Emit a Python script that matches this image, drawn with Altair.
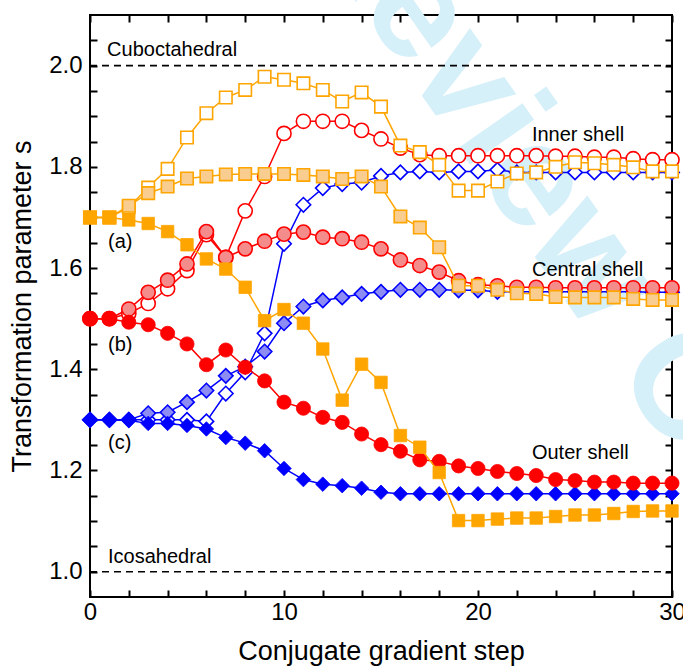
import altair as alt
import pandas as pd

steps = list(range(31))

# (a) orange squares
a_outer = [1.70, 1.70, 1.695, 1.688, 1.672, 1.646, 1.618, 1.598, 1.562, 1.496, 1.518,
           1.491, 1.440, 1.339, 1.410, 1.374, 1.269, 1.246, 1.196, 1.101, 1.101,
           1.104, 1.106, 1.106, 1.109, 1.112, 1.112, 1.115, 1.119, 1.120, 1.120]
a_central = [1.70, 1.70, 1.723, 1.748, 1.761, 1.777, 1.781, 1.785, 1.786, 1.786, 1.786,
             1.784, 1.781, 1.776, 1.781, 1.761, 1.702, 1.680, 1.641, 1.565, 1.565,
             1.557, 1.550, 1.549, 1.543, 1.542, 1.542, 1.542, 1.539, 1.537, 1.537]
a_inner = [1.70, 1.70, 1.720, 1.759, 1.796, 1.858, 1.906, 1.937, 1.952, 1.978, 1.972,
           1.965, 1.952, 1.929, 1.947, 1.919, 1.842, 1.829, 1.804, 1.753, 1.753,
           1.771, 1.787, 1.789, 1.800, 1.809, 1.807, 1.804, 1.799, 1.791, 1.791]
# (b) red circles
b_outer = [1.50, 1.50, 1.493, 1.488, 1.471, 1.450, 1.409, 1.438, 1.404, 1.377, 1.335,
           1.323, 1.305, 1.295, 1.272, 1.251, 1.238, 1.221, 1.218, 1.209, 1.204,
           1.198, 1.194, 1.190, 1.182, 1.180, 1.177, 1.177, 1.175, 1.175, 1.175]
b_central = [1.50, 1.50, 1.519, 1.552, 1.576, 1.608, 1.672, 1.621, 1.638, 1.653, 1.667,
             1.671, 1.661, 1.658, 1.651, 1.638, 1.616, 1.605, 1.592, 1.575, 1.567,
             1.565, 1.562, 1.562, 1.561, 1.561, 1.561, 1.561, 1.561, 1.561, 1.561]
b_inner = [1.50, 1.50, 1.510, 1.530, 1.559, 1.595, 1.666, 1.621, 1.713, 1.781, 1.866,
           1.890, 1.890, 1.890, 1.872, 1.855, 1.837, 1.824, 1.822, 1.822, 1.822,
           1.822, 1.822, 1.822, 1.821, 1.821, 1.819, 1.819, 1.816, 1.814, 1.814]
# (c) blue diamonds
c_outer = [1.30, 1.30, 1.299, 1.293, 1.293, 1.289, 1.282, 1.265, 1.254, 1.239, 1.204,
           1.182, 1.173, 1.170, 1.165, 1.157, 1.154, 1.154, 1.154, 1.154, 1.154,
           1.154, 1.154, 1.154, 1.154, 1.154, 1.154, 1.154, 1.154, 1.154, 1.154]
c_central = [1.30, 1.30, 1.300, 1.313, 1.315, 1.335, 1.358, 1.387, 1.405, 1.435, 1.491,
             1.524, 1.536, 1.542, 1.549, 1.553, 1.557, 1.557, 1.557, 1.556, 1.556,
             1.553, 1.553, 1.553, 1.553, 1.553, 1.553, 1.553, 1.553, 1.552, 1.552]
c_inner = [1.30, 1.30, 1.300, 1.300, 1.300, 1.300, 1.297, 1.352, 1.394, 1.471, 1.648,
           1.725, 1.758, 1.766, 1.769, 1.782, 1.789, 1.791, 1.789, 1.791, 1.791,
           1.794, 1.789, 1.789, 1.789, 1.789, 1.789, 1.789, 1.789, 1.789, 1.789]

ref_values = [2.0, 1.0]
ref_labels = ["Cuboctahedral", "Icosahedral"]
ref_label_x = [0.88, 0.93]
ref_label_y = [2.018, 1.018]

shell_labels = ["Inner shell", "Central shell", "Outer shell", "(a)", "(b)", "(c)"]
shell_label_x = [22.78, 22.78, 22.78, 0.93, 0.93, 0.93]
shell_label_y = [1.852, 1.585, 1.223, 1.640, 1.437, 1.243]

FONT = "Liberation Sans"

X_SCALE = alt.Scale(domain=[0, 30], nice=False, zero=False)
Y_SCALE = alt.Scale(domain=[0.95, 2.1], nice=False, zero=False)

x_tick_vals = list(range(0, 31, 2))
y_tick_vals = [round(1.0 + 0.05 * i, 2) for i in range(22)]

x_axis = alt.Axis(values=x_tick_vals, orient="bottom", offset=-7, tickSize=7, tickWidth=2,
                  tickColor="black", domain=False, grid=False,
                  labelExpr="datum.value % 10 == 0 ? datum.label : ''",
                  labelFont=FONT, labelFontSize=24, labelColor="black", labelPadding=3,
                  labelOverlap=False, labelFlush=False,
                  title="Conjugate gradient step", titleFont=FONT, titleFontSize=27,
                  titleFontWeight="normal", titleColor="black", titlePadding=14)
y_axis = alt.Axis(values=y_tick_vals, orient="left", offset=-7, tickSize=7, tickWidth=2,
                  tickColor="black", domain=False, grid=False,
                  labelExpr="abs(round(datum.value*100) % 20) == 0 ? format(datum.value, '.1f') : ''",
                  labelFont=FONT, labelFontSize=24, labelColor="black", labelPadding=8,
                  labelOverlap=False, labelFlush=False,
                  title="Transformation parameter s", titleFont=FONT, titleFontSize=27,
                  titleFontWeight="normal", titleColor="black", titlePadding=12)


def X(field):
    return alt.X(field, type="quantitative", scale=X_SCALE, axis=x_axis)


def Y(field):
    return alt.Y(field, type="quantitative", scale=Y_SCALE, axis=y_axis)


layers = []

# watermark
wm = pd.DataFrame({"step": [21.4], "s": [1.857], "t": ["For Review Only"]})
layers.append(alt.Chart(wm).mark_text(font=FONT, fontSize=148, fontWeight="bold",
                                      color="#d6f0fa", angle=55, align="center",
                                      baseline="middle").encode(x=X("step"), y=Y("s"), text="t:N"))

# reference dashed lines
ref = pd.DataFrame({"s": ref_values, "x0": [0] * 2, "x1": [30] * 2})
layers.append(alt.Chart(ref).mark_rule(color="black", strokeWidth=1.6, strokeDash=[7, 5]).encode(
    x=X("x0"), x2="x1", y=Y("s")))

txt = pd.DataFrame({"step": ref_label_x + shell_label_x, "s": ref_label_y + shell_label_y,
                    "t": ref_labels + shell_labels})
layers.append(alt.Chart(txt).mark_text(font=FONT, fontSize=20, color="black", align="left",
                                       baseline="alphabetic").encode(x=X("step"), y=Y("s"), text="t:N"))

BLUE, RED, ORANGE = "#0000ff", "#ff0000", "#ffa500"
series = [
    (c_inner, BLUE, "diamond", "inner", "#ffffff"),
    (b_inner, RED, "circle", "inner", "#ffffff"),
    (a_inner, ORANGE, "square", "inner", "#ffffff"),
    (c_central, BLUE, "diamond", "central", "#8c8cf2"),
    (b_central, RED, "circle", "central", "#f58c8c"),
    (a_central, ORANGE, "square", "central", "#f9cc8f"),
    (c_outer, BLUE, "diamond", "outer", BLUE),
    (b_outer, RED, "circle", "outer", RED),
    (a_outer, ORANGE, "square", "outer", ORANGE),
]
sizes = {"diamond": 210, "circle": 200, "square": 155}

for vals, col, shape, shell, light in series:
    df = pd.DataFrame({"step": steps, "s": vals})
    base = alt.Chart(df)
    layers.append(base.mark_line(color=col, strokeWidth=1.5).encode(x=X("step"), y=Y("s")))
    if shell == "outer":
        fill, sw = col, 0.8
    elif shell == "central":
        fill, sw = light, 1.6
    else:
        fill, sw = "#ffffff", 1.6
    layers.append(base.mark_point(shape=shape, size=sizes[shape], filled=True, fill=fill,
                                  stroke=col, strokeWidth=sw, opacity=1).encode(
        x=X("step"), y=Y("s")))

main = alt.layer(*layers)

frame_df = pd.DataFrame({"step": [0], "s": [1.0]})
frame = alt.Chart(frame_df).mark_point(opacity=0).encode(
    x=alt.X("step:Q", scale=X_SCALE,
            axis=alt.Axis(values=x_tick_vals, orient="top", offset=-7, tickSize=7, tickWidth=2,
                          tickColor="black", domain=False, grid=False, labels=False, title=None)),
    y=alt.Y("s:Q", scale=Y_SCALE,
            axis=alt.Axis(values=y_tick_vals, orient="right", offset=-7, tickSize=7, tickWidth=2,
                          tickColor="black", domain=False, grid=False, labels=False, title=None)),
)

chart = alt.layer(main, frame).resolve_scale(x="independent", y="independent").properties(
    width=582, height=582,
    autosize=alt.AutoSizeParams(type="none"),
    padding={"left": 90, "top": 15, "right": 11, "bottom": 69},
    background="white",
).configure_view(stroke="black", strokeWidth=2)

chart.save("out.html", embed_options={"renderer": "svg", "actions": False})
